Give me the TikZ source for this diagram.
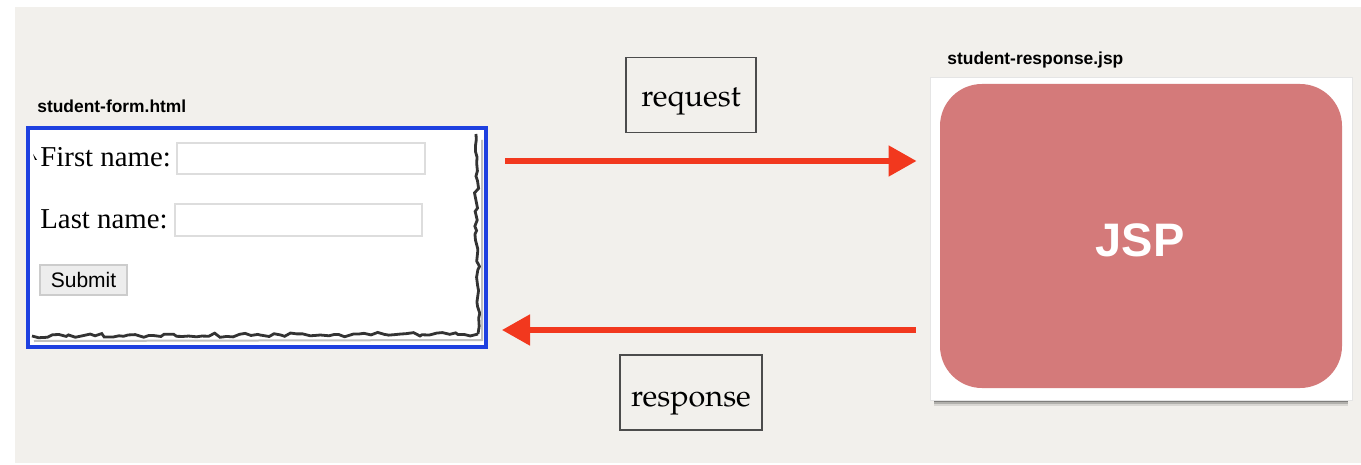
\documentclass[tikz,border=0pt]{standalone}
\usepackage[T1]{fontenc}
\usepackage{fontspec}
\setmainfont{Liberation Serif}
\setsansfont{Liberation Sans}
\usetikzlibrary{decorations.pathmorphing,arrows.meta,fit}
\definecolor{bgc}{HTML}{F2F0EC}
\definecolor{formblue}{HTML}{1E40E0}
\definecolor{arrred}{HTML}{F2381E}
\definecolor{jspred}{HTML}{D47A7A}
\definecolor{fieldgray}{HTML}{DDDDDD}
\newcommand{\pala}{\fontencoding{T1}\fontfamily{ppl}\selectfont}
\tikzset{
  filelbl/.style={font=\sffamily\bfseries\fontsize{8.7}{10}\selectfont, inner sep=0pt, anchor=base west},
  formtext/.style={font=\rmfamily\fontsize{14.4}{16}\selectfont, inner sep=0pt, anchor=base west},
  field/.style={draw=fieldgray, fill=white, line width=0.6pt, inner sep=0pt},
  msgbox/.style={draw=black!70, line width=0.7pt, fill=bgc, minimum width=65pt, minimum height=37.5pt, inner sep=0pt, text depth=0pt, font=\pala\fontsize{15.3}{17}\selectfont},
  flow/.style={draw=arrred, line width=2.6pt, -{Triangle[length=14pt,width=15pt]}},
  torn/.style={draw=black!80, line width=1.4pt, decorate, decoration={random steps, segment length=3pt, amplitude=1.1pt}},
}
\begin{document}
\begin{tikzpicture}[x=0.5pt,y=-0.5pt]
\useasboundingbox (0,0) rectangle (1361,465);
\fill[white] (0,0) rectangle (1361,465);
\fill[bgc] (15,7) rectangle (1361,463);

% form
\node[filelbl] (formlbl) at (37,113) {student-form.html};
\node[fit={(28,128) (486,347)}, inner sep=0pt, draw=formblue, line width=2pt, fill=white] (form) {};
\draw[torn] (476,134) -- (478,334);
\draw[torn] (478,334) -- (32,336);
\draw[draw=black!25, line width=1pt] (482,140) -- (482,340) -- (34,341);
\node[formtext] (fn) at (40,167) {First name:};
\node[field, fit={(177,143) (425,174)}] (fnfield) {};
\node[formtext] (ln) at (40,228) {Last name:};
\node[field, fit={(175,204) (422,236)}] (lnfield) {};
\node[draw=black!20, fill=black!7, line width=0.6pt, minimum width=43.5pt, minimum height=15pt, inner sep=0pt, font=\sffamily\fontsize{10.5}{12}\selectfont] (submit) at (83.5,280) {Submit};
\fill[black] (33,154) -- (37,160) -- (35,160) -- cycle;

% jsp
\node[filelbl] (jsplbl) at (947,65) {student-response.jsp};
\foreach \o/\a in {6/0.10,4/0.18,2/0.28}{
  \fill[black, opacity=\a] (934,80+\o) rectangle (1348,400+\o);
}
\node[fit={(930,78) (1352,400)}, inner sep=0pt, fill=white, draw=black!10, line width=0.5pt] (frame) {};
\node[fit={(940,84) (1342,388)}, inner sep=0pt, fill=jspred, rounded corners=21pt] (jsp) {};
\node[font=\sffamily\bfseries\fontsize{23.5}{26}\selectfont, text=white, inner sep=0pt] (jsptxt) at (1140,240) {JSP};

% messages
\node[msgbox, text height=12pt] (req) at (691,95) {request};
\node[msgbox, minimum width=71pt, text height=14pt] (resp) at (691,392.5) {response};
\coordinate (reqy) at (0,161);
\coordinate (respy) at (0,330);
\draw[flow, shorten <=8.5pt, shorten >=6.5pt] (form.east |- reqy) -- (frame.west |- reqy);
\draw[flow, shorten <=7pt, shorten >=7pt] (frame.west |- respy) -- (form.east |- respy);
\end{tikzpicture}
\end{document}
